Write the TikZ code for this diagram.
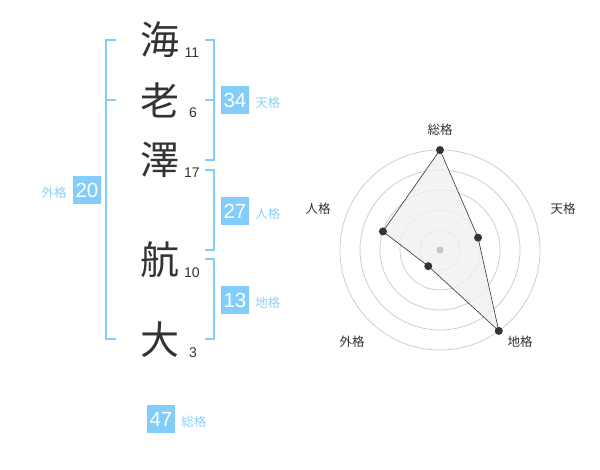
\documentclass[tikz,border=0pt]{standalone}
\usepackage{fontspec}
\setmainfont{Liberation Sans}
\newfontfamily\jp{Noto Sans CJK JP}
\usepackage{xcolor}
\usepackage{tikz}
\usetikzlibrary{
  positioning
}
\definecolor{kakublue}{RGB}{130,205,250}
\definecolor{kakutext}{RGB}{140,208,245}
\definecolor{inkgray}{RGB}{51,51,51}
\definecolor{ringgray}{RGB}{200,200,200}

\begin{document}
\begin{tikzpicture}[x=1pt, y=-1pt,
    kanji/.style={text=inkgray, font=\jp\fontsize{39}{39}\selectfont, inner sep=0pt},
    strokes/.style={text=inkgray, font=\fontsize{14}{14}\selectfont, inner sep=0pt},
    kakubox/.style={fill=kakublue, text=white, minimum width=28pt, minimum height=28pt, inner sep=0pt, font=\fontsize{20.5}{20.5}\selectfont},
    kakuname/.style={text=kakutext, font=\jp\fontsize{12.5}{12.5}\selectfont, inner sep=0pt},
    bracket/.style={draw=kakublue, line width=1.6pt},
    ring/.style={draw=ringgray, line width=0.7pt},
    dot/.style={circle, fill=inkgray, inner sep=0pt, minimum size=8pt},
    axisname/.style={text=inkgray, font=\jp\fontsize{12.5}{12.5}\selectfont, inner sep=0pt}]
\useasboundingbox (0,0) rectangle (600,470);

% name
\node [kanji] (k1) at (160,40) {海};
\node [kanji] (k2) at (160,100) {老};
\node [kanji] (k3) at (160,160) {澤};
\node [kanji] (k4) at (160,260) {航};
\node [kanji] (k5) at (160,340) {大};
\node [strokes] (s1) at (192,53) {11};
\node [strokes] (s2) at (193,113) {6};
\node [strokes] (s3) at (192,173) {17};
\node [strokes] (s4) at (192,273) {10};
\node [strokes] (s5) at (193,353) {3};

% brackets
\draw [bracket] (116,40) -- (106,40) -- (106,339) -- (116,339);
\draw [bracket] (106,100) -- (116,100);
\draw [bracket] (205,40) -- (214,40) -- (214,160) -- (205,160);
\draw [bracket] (205,100) -- (214,100);
\draw [bracket] (205,170) -- (214,170) -- (214,250) -- (205,250);
\draw [bracket] (205,259) -- (214,259) -- (214,339) -- (205,339);

% kaku values
\node [kakubox] (ten) at (235,100) {34};
\node [kakuname, right=6pt of ten, yshift=-3pt] (tenname) {天格};
\node [kakubox] (jin) at (235,211) {27};
\node [kakuname, right=6pt of jin, yshift=-3pt] (jinname) {人格};
\node [kakubox] (chi) at (235,300) {13};
\node [kakuname, right=6pt of chi, yshift=-3pt] (chiname) {地格};
\node [kakubox] (gai) at (87,190) {20};
\node [kakuname, left=6pt of gai, yshift=-3pt] (gainame) {外格};
\node [kakubox] (sou) at (161,419) {47};
\node [kakuname, right=6pt of sou, yshift=-3pt] (souname) {総格};

% radar
\begin{scope}[shift={(440,250)}, y=1pt]
\foreach \r in {20,40,60,80,100}
  \draw [ring] (0,0) circle (\r);
\coordinate (psou) at (90:100);
\coordinate (pten) at (18:40);
\coordinate (pchi) at (-54:100);
\coordinate (pgai) at (-126:20);
\coordinate (pjin) at (162:60);
\draw [fill=gray!12, fill opacity=0.8, draw=inkgray, line width=0.6pt]
  (psou) -- (pten) -- (pchi) -- (pgai) -- (pjin) -- cycle;
\node [circle, fill=ringgray, inner sep=0pt, minimum size=7pt] (mid) at (0,0) {};
\foreach \p in {psou,pten,pchi,pgai,pjin}
  \node [dot] at (\p) {};
\node [axisname] (asou) at (0,120) {総格};
\node [axisname] (aten) at (123,41) {天格};
\node [axisname] (achi) at (80,-92) {地格};
\node [axisname] (agai) at (-88,-92) {外格};
\node [axisname] (ajin) at (-122,41) {人格};
\end{scope}
\end{tikzpicture}
\end{document}
